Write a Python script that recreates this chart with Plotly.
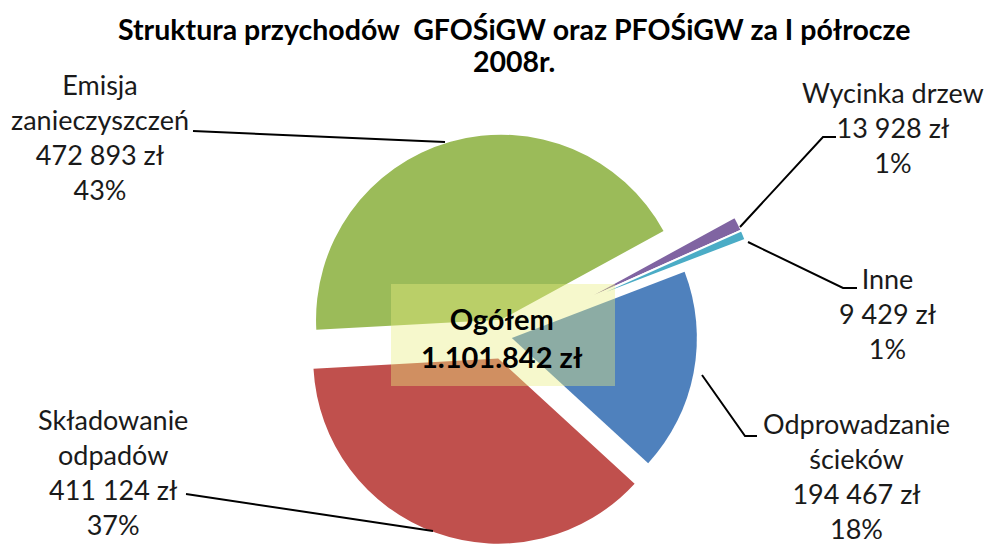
import plotly.graph_objects as go

# ---------------- data ----------------
categories = ["Odprowadzanie ścieków", "Składowanie odpadów", "Emisja zanieczyszczeń",
              "Wycinka drzew", "Inne"]
label_names = ["Odprowadzanie<br>ścieków", "Składowanie<br>odpadów", "Emisja<br>zanieczyszczeń",
               "Wycinka drzew", "Inne"]
values = [194467, 411124, 472893, 13928, 9429]
value_labels = ["194 467 zł", "411 124 zł", "472 893 zł", "13 928 zł", "9 429 zł"]
percent_labels = ["18%", "37%", "43%", "1%", "1%"]
total_title = "Ogółem"
total_label = "1.101.842 zł"
title_lines = ["Struktura przychodów  GFOŚiGW oraz PFOŚiGW za I półrocze", "2008r."]

# ---------------- styles / layout ----------------
colors = ["#4F81BD", "#C0504D", "#9BBB59", "#8064A2", "#4BACC6"]
CLEAR = "rgba(0,0,0,0)"
WIN_W, WIN_H = 994, 545
OFF = 8                      # default page body margin
W, H = WIN_W - OFF, WIN_H - OFF
FONT = "Lato"


def px(x):
    """window pixel x -> paper x"""
    return (x - OFF) / W


def py(y):
    """window pixel y -> paper y"""
    return 1 - (y - OFF) / H


big = [0, 1, 2]
thin = [3, 4]
rotation = 69

# main (large) slices
main_colors = [colors[i] if i in big else CLEAR for i in range(len(values))]
main_pull = [0.032, 0.124, 0.097, 0.0, 0.0]
cx, cy, half = 506, 337, 208

# thin slices, exploded further (drawn from their own apex)
thin_colors = [colors[i] if i in thin else CLEAR for i in range(len(values))]
tx, ty, tr = 570, 307, 188

fig = go.Figure()
fig.add_trace(go.Pie(
    labels=categories, values=values, sort=False, direction="clockwise",
    rotation=rotation, pull=main_pull, textinfo="none", showlegend=False,
    marker=dict(colors=main_colors, line=dict(width=0)),
    domain=dict(x=[px(cx - half), px(cx + half)], y=[max(0, py(cy + half)), py(cy - half)]),
    hoverinfo="label+value+percent",
))
fig.add_trace(go.Pie(
    labels=categories, values=values, sort=False, direction="clockwise",
    rotation=rotation, textinfo="none", showlegend=False,
    marker=dict(colors=thin_colors,
                line=dict(width=[0, 0, 0, 2, 2], color="white")),
    domain=dict(x=[px(tx - tr), px(tx + tr)], y=[py(ty + tr), py(ty - tr)]),
    hoverinfo="label+value+percent",
))

# label positions (block centres, window px)
label_pos = {
    0: (856, 476),
    1: (113, 472),
    2: (100, 137),
    3: (893, 128),
    4: (887, 313),
}
annotations = []
for i, (x, y) in label_pos.items():
    annotations.append(dict(
        x=px(x), y=py(y), xref="paper", yref="paper", xanchor="center", yanchor="middle",
        text=f"{label_names[i]}<br>{value_labels[i]}<br>{percent_labels[i]}",
        showarrow=False, align="center",
        font=dict(family=FONT, size=27, color="#1a1a1a"),
    ))

for line, y in zip(title_lines, [29, 61]):
    annotations.append(dict(
        x=px(514), y=py(y), xref="paper", yref="paper", xanchor="center", yanchor="middle",
        text=f"<b>{line}</b>", showarrow=False, align="center",
        font=dict(family=FONT, size=28.5, color="#000000"),
    ))
annotations.append(dict(
    x=px(502), y=py(337), xref="paper", yref="paper", xanchor="center", yanchor="middle",
    text=f"<b>{total_title}<br>{total_label}</b>", showarrow=False, align="center",
    font=dict(family=FONT, size=29, color="#000000"),
))

# leader lines (window px paths)
leaders = [
    [(193, 131), (445, 142)],
    [(836, 137), (823, 137), (740, 227)],
    [(748, 242), (843, 288), (857, 288)],
    [(702, 375), (745, 436), (757, 436)],
    [(186, 494), (433, 531)],
]
shapes = []
for pts in leaders:
    path = "M " + " L ".join(f"{px(x):.5f},{py(y):.5f}" for x, y in pts)
    shapes.append(dict(type="path", path=path, xref="paper", yref="paper",
                       line=dict(color="#000000", width=2)))

shapes.append(dict(type="rect", xref="paper", yref="paper", layer="above",
                   x0=px(391), x1=px(615), y0=py(386), y1=py(284),
                   fillcolor="rgb(232,237,127)", opacity=0.4, line=dict(width=0)))

fig.update_layout(
    width=W, height=H,
    margin=dict(l=0, r=0, t=0, b=0),
    paper_bgcolor="white", plot_bgcolor="white",
    annotations=annotations, shapes=shapes,
    font=dict(family=FONT),
)

fig.write_html("out.html")
